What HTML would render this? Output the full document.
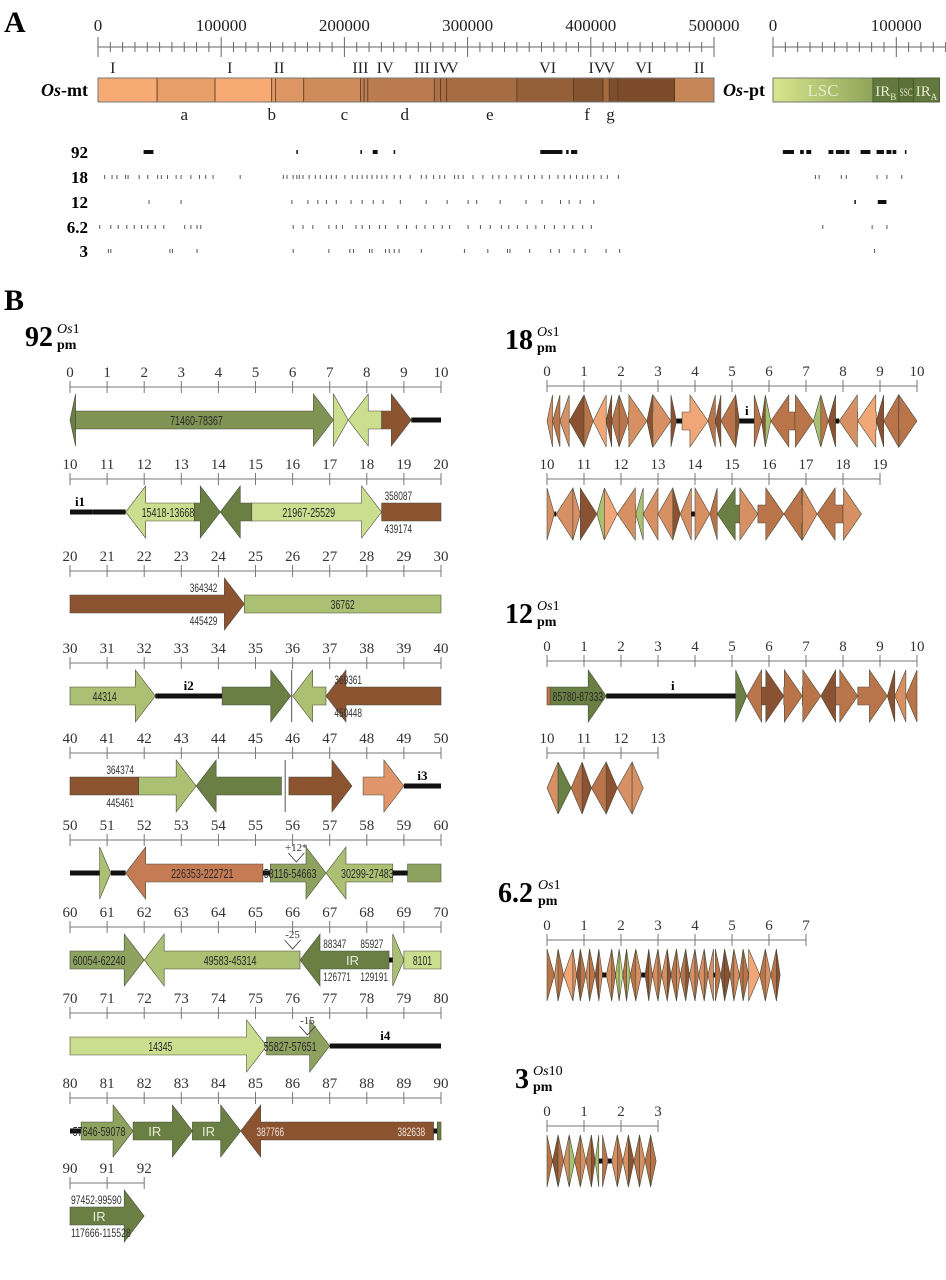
<!DOCTYPE html>
<html><head><meta charset="utf-8">
<style>
html,body{margin:0;padding:0;background:#fff;}
svg{display:block;}
.ser{font-family:"Liberation Serif",serif;}
.san{font-family:"Liberation Sans Narrow","Liberation Sans",sans-serif;}
</style></head>
<body>
<svg id="fig" width="946" height="1280" viewBox="0 0 946 1280" xmlns="http://www.w3.org/2000/svg">
<defs>
<linearGradient id="ptgrad" x1="0" x2="1" y1="0" y2="0">
<stop offset="0" stop-color="#d8e68c"/><stop offset="0.6" stop-color="#8fa45a"/><stop offset="1" stop-color="#607a3c"/>
</linearGradient>
</defs>
<text x="4" y="32" class="ser" font-size="30" font-weight="bold">A</text>
<text x="4" y="310" class="ser" font-size="30" font-weight="bold">B</text>
<g id="topg"></g>
<g id="leftg"></g>
<g id="rightg"></g>
</svg>
<script>
// ---------- Panel A data ----------
const mtTicks = [0,100000,200000,300000,400000,500000];
const ptTicks = [0,100000];
const mtSegStart = [0,48000,95000,141000,144000,167000,213000,216000,219000,273000,278000,283000,340000,386000,410000,415000,422000,468000];
const mtSegShade = [0.0,0.12,0.0,0.15,0.2,0.3,0.4,0.42,0.45,0.55,0.58,0.6,0.72,0.85,0.6,0.88,0.9,0.35];
const mtRoman = [[12000,'I'],[107000,'I'],[147000,'II'],[213000,'III'],[233000,'IV'],[263000,'III'],[279000,'IV'],[288000,'V'],[365000,'VI'],[405000,'IV'],[415000,'V'],[443000,'VI'],[488000,'II']];
const mtLetters = [[70000,'a'],[141000,'b'],[200000,'c'],[249000,'d'],[318000,'e'],[397000,'f'],[416000,'g']];
const ptRegions = [[0,81000,'LSC'],[81000,102000,'IR'],[102000,114000,'SSC'],[114000,135000,'IR']];
const rowNames = ['92','18','12','6.2','3'];
const mtHits92 = [[37,45],[161,162],[213,214],[223,227],[240,241],[359,377],[380,382],[384,389]];
const ptHits92 = [[8,17],[22,25],[27,31],[45,49],[51,58],[59,62],[71,79],[84,90],[92,96],[97,100],[107,108]];
const mtHits18 = [5,11,15,22,24,33,40,48,51,56,63,67,75,82,87,93,115,150,153,158,161,163,166,171,176,180,185,189,193,200,206,210,214,218,222,226,230,234,240,245,253,262,266,272,277,281,289,292,296,304,312,320,325,331,338,343,349,354,360,366,373,378,383,388,393,397,402,408,413,422];
const ptHits18 = [34,37,55,59,84,92,104];
const mtHits12 = [41,67,157,170,178,185,193,205,214,223,231,245,266,283,300,307,326,347,360,375,382,391,402];
const ptHits12 = [[66,67],[85,92]];
const mtHits62 = [1,10,16,23,29,35,40,46,53,70,75,80,83,158,166,174,187,193,198,209,214,220,228,233,243,250,258,265,272,279,285,300,310,318,327,333,340,348,355,362,370,378,385,393,400];
const ptHits62 = [40,80,92];
const mtHits3 = [8,10,58,60,80,158,187,204,207,220,222,233,236,240,244,262,297,316,332,334,350,367,374,386,395,412,423];
const ptHits3 = [82];

// ---------- Panel B data (kb; dir: 1 right, -1 left, 0 box, 2 line, 3 sliver) ----------
const seg92Start = [0,0.15,7.1,7.5,8.4,9.2, 10,10.6,11.5,13.35,14.05,14.9,18.4, 20,24.7, 30,32.3,34.1,35.95,36.0,36.9, 40,41.85,43.4,45.7,45.9,47.9,49.0, 50,50.8,51.1,51.5,55.2,55.4,56.9,58.7,59.1, 60,62.0,66.2,68.6,68.7,69.0, 70,75.3,77.0, 80,80.3,81.7,83.3,84.6,89.8,89.9, 90];
const seg92End   = [0.15,7.1,7.5,8.4,9.2,10, 10.6,11.5,13.35,14.05,14.9,18.4,20, 24.7,30, 32.3,34.1,35.95,36.0,36.9,40, 41.85,43.4,45.7,45.9,47.6,49.0,50, 50.8,51.1,51.5,55.2,55.4,56.9,58.7,59.1,60, 62.0,66.2,68.6,68.7,69.0,70, 75.3,77.0,80, 80.3,81.7,83.3,84.6,89.8,89.9,90, 92];
const seg92Dir   = [-1,1,1,-1,1,2, 2,2,-1,1,-1,1,0, 1,0, 1,2,1,3,-1,-1, 0,1,-1,3,1,1,2, 2,1,2,-1,2,1,-1,2,0, 1,-1,-1,2,1,0, 1,1,2, 2,1,1,1,-1,2,0, 1];
const seg92Col   = ['dg','mo','lg','lg','br','k', 'k','k','lg','dg','dg','lg','br', 'br','lg2', 'lg2','k','dg','k','lg2','br', 'br','lg2','dg','k','br','or','k', 'k','lg2','k','lor','k','mg','lg2','k','mg', 'mg','lg2','dg','k','lg2','lg', 'lg','mg','k', 'k','mg','dg','dg','br','k','dg', 'dg'];
const seg92Label = ['','71460-78367','','','','', 'i1','','15418-13668','','','21967-25529','', '','36762', '44314','i2','','','','', '','','','','','','i3', '','','','226353-222721','','53116-54663','30299-27483','','', '60054-62240','49583-45314','IR','','','8101', '14345','55827-57651','i4', '','57646-59078','IR','IR','','',''  ,'IR'];
const notes92 = [[18.45,'a','358087','start'],[18.45,'b','439174','start'],[24.0,'a','364342','end'],[24.0,'b','445429','end'],[37.1,'a','369361','start'],[37.1,'b','450448','start'],[41.75,'a','364374','end'],[41.75,'b','445461','end'],[66.8,'a','88347','start'],[67.8,'a','85927','start'],[66.8,'b','126771','start'],[67.8,'b','129191','start'],[85.0,'m','387766','start'],[89.6,'m','382638','end'],[90,'a','97452-99590','start'],[90,'b','117666-115528','start']];
const marks92 = [[56.1,'+12*'],[66.0,'-25'],[76.4,'-15']];

const seg18 = [[0,0.15,-1,'o'],[0.15,0.35,-1,'b'],[0.35,0.6,-1,'o'],[0.6,1.0,-1,'db'],[1.0,1.25,1,'b'],[1.25,1.6,-1,'lo'],[1.6,1.75,-1,'db'],[1.75,1.95,-1,'b'],[1.95,2.2,1,'b'],[2.2,2.7,1,'o'],[2.7,2.85,-1,'db'],[2.85,3.35,1,'o'],[3.35,3.5,1,'db'],[3.5,3.65,2,'k'],[3.65,4.35,1,'lo'],[4.35,4.55,-1,'b'],[4.55,4.7,-1,'db'],[4.7,5.1,-1,'b'],[5.1,5.2,1,'db'],[5.2,5.6,2,'k'],[5.6,5.8,1,'b'],[5.8,5.9,-1,'db'],[5.9,6.05,1,'g'],[6.05,6.7,-1,'b'],[6.7,7.2,1,'b'],[7.2,7.4,-1,'g'],[7.4,7.6,1,'b'],[7.6,7.8,-1,'db'],[7.8,7.9,2,'k'],[7.9,8.4,-1,'o'],[8.4,8.9,-1,'lo'],[8.9,9.1,-1,'db'],[9.1,9.5,-1,'b'],[9.5,10.0,1,'b'],
 [10,10.2,1,'o'],[10.2,10.25,2,'k'],[10.25,10.7,-1,'o'],[10.7,10.9,1,'o'],[10.9,11.35,1,'db'],[11.35,11.55,-1,'g'],[11.55,11.9,1,'lo'],[11.9,12.4,-1,'o'],[12.4,12.6,-1,'g'],[12.6,13.0,-1,'o'],[13.0,13.4,-1,'o'],[13.4,13.6,1,'db'],[13.6,13.9,-1,'o'],[13.9,14.0,2,'k'],[14.0,14.4,1,'o'],[14.4,14.6,-1,'b'],[14.6,15.2,-1,'dg'],[15.2,15.7,1,'o'],[15.7,16.4,1,'b'],[16.4,16.9,-1,'b'],[16.9,17.3,1,'o'],[17.3,18.0,-1,'b'],[18.0,18.5,1,'o']];
const lab18 = [[5.4,'i']];
const seg12 = [[0,0.1,0,'b'],[0.1,1.6,1,'dg'],[1.6,5.1,2,'k'],[5.1,5.4,1,'dg'],[5.4,5.8,-1,'b'],[5.8,6.4,1,'db'],[6.4,6.9,1,'b'],[6.9,7.4,1,'b'],[7.4,7.8,-1,'db'],[7.8,8.4,1,'b'],[8.4,9.2,1,'b'],[9.2,9.4,-1,'db'],[9.4,9.7,-1,'o'],[9.7,10,-1,'b'],
 [10,10.3,-1,'o'],[10.3,10.65,1,'dg'],[10.65,10.95,-1,'b'],[10.95,11.2,1,'db'],[11.2,11.6,-1,'b'],[11.6,11.9,1,'db'],[11.9,12.3,-1,'o'],[12.3,12.6,1,'o']];
const lab12 = [[3.4,'i'],[0.15,'85780-87333']];
const seg62 = [[0,0.2,1,'b'],[0.2,0.3,-1,'o'],[0.3,0.45,1,'b'],[0.45,0.7,-1,'lo'],[0.7,0.8,1,'o'],[0.8,0.9,-1,'db'],[0.9,1.05,1,'b'],[1.05,1.15,-1,'o'],[1.15,1.3,1,'b'],[1.3,1.4,-1,'db'],[1.4,1.5,1,'o'],[1.5,1.6,2,'k'],[1.6,1.75,-1,'o'],[1.75,1.85,1,'b'],[1.85,1.95,-1,'g'],[1.95,2.05,1,'lgx'],[2.05,2.15,-1,'b'],[2.15,2.25,1,'g'],[2.25,2.4,-1,'b'],[2.4,2.55,1,'o'],[2.55,2.65,2,'k'],[2.65,2.75,-1,'db'],[2.75,2.85,1,'b'],[2.85,3.0,-1,'o'],[3.0,3.1,1,'b'],[3.1,3.25,-1,'o'],[3.25,3.35,1,'db'],[3.35,3.5,-1,'b'],[3.5,3.6,1,'o'],[3.6,3.75,-1,'b'],[3.75,3.85,1,'db'],[3.85,4.0,-1,'o'],[4.0,4.1,1,'b'],[4.1,4.25,-1,'o'],[4.25,4.35,1,'b'],[4.35,4.5,-1,'o'],[4.5,4.55,2,'k'],[4.55,4.7,1,'b'],[4.7,4.8,-1,'db'],[4.8,4.95,1,'db'],[4.95,5.05,-1,'b'],[5.05,5.2,1,'o'],[5.2,5.3,-1,'b'],[5.3,5.45,1,'b'],[5.45,5.75,1,'lo'],[5.75,5.9,-1,'b'],[5.9,6.05,1,'o'],[6.05,6.2,-1,'b'],[6.2,6.3,1,'db']];
const seg3 = [[0,0.15,1,'b'],[0.15,0.3,-1,'db'],[0.3,0.45,1,'b'],[0.45,0.6,-1,'o'],[0.6,0.75,1,'g'],[0.75,0.9,-1,'b'],[0.9,1.05,1,'o'],[1.05,1.2,-1,'b'],[1.2,1.3,1,'db'],[1.3,1.4,-1,'g'],[1.4,1.5,2,'k'],[1.5,1.65,1,'b'],[1.65,1.75,2,'k'],[1.75,1.9,-1,'o'],[1.9,2.05,1,'b'],[2.05,2.2,-1,'o'],[2.2,2.35,1,'db'],[2.35,2.5,-1,'b'],[2.5,2.65,1,'o'],[2.65,2.8,-1,'b'],[2.8,2.95,1,'b']];

// ---------- drawing ----------
const NS='http://www.w3.org/2000/svg';
const COL={dg:'#6a7f43',mo:'#7f9354',mg:'#8da25f',lg2:'#abc073',lg:'#cbde90',lgx:'#c8dc8c',br:'#8b5330',or:'#e0966a',lor:'#c57b53',o:'#d69063',lo:'#f0a676',b:'#b97549',db:'#8a5232',g:'#a8c070',k:'#111'};
function mk(tag,attrs,parent,name){const e=document.createElementNS(NS,tag);for(const k in attrs)e.setAttribute(k,attrs[k]);
 
 
 parent.appendChild(e);return e;}
function txt(parent,x,y,s,size,opts,name){const t=mk('text',Object.assign({x:x,y:y,'font-size':size},opts||{}),parent,name);t.textContent=s;return t;}
function ntxt(parent,x,y,s,size,per,opts,name){return txt(parent,x,y,s,size,Object.assign({textLength:(s.length*per).toFixed(1),lengthAdjust:'spacingAndGlyphs'},opts),name);}
function rich(parent,x,y,parts,size,opts,name){const t=mk('text',Object.assign({x:x,y:y,'font-size':size},opts||{}),parent,name);
 parts.forEach(p=>{const s=document.createElementNS(NS,'tspan');if(p[1])s.setAttribute('font-style','italic');s.textContent=p[0];t.appendChild(s);});return t;}

// Panel A
const topG=document.getElementById('topg');
const mx=v=>98+v*616/500000, px=v=>773+v*123.3/100000;
function axisA(x0,x1,sc,ticks,name,maxv){
 mk('line',{x1:x0,x2:x1,y1:47,y2:47,stroke:'#666','stroke-width':1},topG,name+'-line');
 for(let v=0;v<=maxv;v+=10000){const x=sc(v);if(x>x1)break;const big=v%100000===0;
  mk('line',{x1:x,x2:x,y1:big?37:42,y2:big?57:52,stroke:'#666','stroke-width':1},topG,name+'-tick');}
 ticks.forEach(v=>txt(topG,sc(v),31,String(v),17,{class:'ser','text-anchor':'middle',fill:'#222'},name+'-tick-label'));
}
axisA(98,714,mx,mtTicks,'mt-axis',500000);
axisA(773,946,px,ptTicks,'pt-axis',140000);
function lerpC(t){const a=[247,170,115],b=[110,66,34];return 'rgb('+a.map((c,i)=>Math.round(c+(b[i]-c)*t)).join(',')+')';}
mtSegStart.forEach((s,i)=>{const e=i+1<mtSegStart.length?mtSegStart[i+1]:500000;
 mk('rect',{x:mx(s),y:78,width:mx(e)-mx(s),height:24,fill:lerpC(mtSegShade[i]),stroke:'#5a3a22','stroke-width':0.8},topG,'mt-region');});
mk('rect',{x:98,y:78,width:616,height:24,fill:'none',stroke:'#777','stroke-width':1},topG,'mt-bar-outline');
mtRoman.forEach(r=>txt(topG,mx(r[0]),73,r[1],16,{class:'ser','text-anchor':'middle',fill:'#222'},'repeat-label'));
mtLetters.forEach(r=>txt(topG,mx(r[0]),120,r[1],17,{class:'ser','text-anchor':'middle',fill:'#222'},'region-letter'));
rich(topG,88,96,[['Os',true],['-mt',false]],18,{class:'ser','text-anchor':'end','font-weight':'bold'},'os-mt-label');
mk('rect',{x:773,y:78,width:px(135000)-773,height:24,fill:'url(#ptgrad)',stroke:'#777','stroke-width':1},topG,'pt-bar');
ptRegions.forEach((r,i)=>{if(i>0)mk('rect',{x:px(r[0]),y:78,width:px(r[1])-px(r[0]),height:24,fill:['#63783f','#5a7038','#63783f'][i-1],stroke:'#445a2a','stroke-width':0.8},topG,'pt-region');
 const opts={class:'ser','text-anchor':'middle',fill:'#e6eccc'};
 if(i==2){opts.textLength='13';opts.lengthAdjust='spacingAndGlyphs';}
 const t=txt(topG,(px(r[0])+px(r[1]))/2,96,r[2],i==0?17:(i==2?12:15),opts,'pt-region-label');
 if(i==1||i==3){const s=document.createElementNS(NS,'tspan');s.setAttribute('font-size','9');s.setAttribute('dy','4');s.textContent=i==1?'B':'A';t.appendChild(s);}});
rich(topG,765,96,[['Os',true],['-pt',false]],18,{class:'ser','text-anchor':'end','font-weight':'bold'},'os-pt-label');
const rowY=[152,177,202,227,251];
rowNames.forEach((n,i)=>txt(topG,88,rowY[i]+6,n,17,{class:'ser','text-anchor':'end','font-weight':'bold'},'row-label-'+n));
function bars(list,sc,y,name){list.forEach(h=>{const a=sc(h[0]*1000),b=sc(h[1]*1000);mk('rect',{x:a,y:y-2,width:Math.max(1.5,b-a),height:4,fill:'#111'},topG,name);});}
function tickMarks(list,sc,y,name){list.forEach(v=>mk('rect',{x:sc(v*1000),y:y-2,width:1,height:4,fill:'#555'},topG,name));}
bars(mtHits92,mx,rowY[0],'mt-hit-92');bars(ptHits92,px,rowY[0],'pt-hit-92');
tickMarks(mtHits18,mx,rowY[1],'mt-hit-18');tickMarks(ptHits18,px,rowY[1],'pt-hit-18');
tickMarks(mtHits12,mx,rowY[2],'mt-hit-12');bars(ptHits12,px,rowY[2],'pt-hit-12');
tickMarks(mtHits62,mx,rowY[3],'mt-hit-6.2');tickMarks(ptHits62,px,rowY[3],'pt-hit-6.2');
tickMarks(mtHits3,mx,rowY[4],'mt-hit-3');tickMarks(ptHits3,px,rowY[4],'pt-hit-3');

// Panel B helpers
function drawAxis(g,x0,sc,y,from,to,name){
 mk('line',{x1:x0,x2:x0+(to-from)*sc,y1:y,y2:y,stroke:'#777','stroke-width':1},g,name+'-line');
 for(let v=from;v<=to;v++){const x=x0+(v-from)*sc;
  mk('line',{x1:x,x2:x,y1:y-6,y2:y+6,stroke:'#777','stroke-width':1},g,name+'-tick');
  txt(g,x,y-10,String(v),15,{class:'ser','text-anchor':'middle',fill:'#333'},name+'-tick-label');}
}
function drawSeg(g,a,b,dir,col,cy,hh,bh,hl,name){
 const L=b-a;
 if(dir===2){mk('rect',{x:a,y:cy-2.5,width:L,height:5,fill:'#111'},g,name+'-spacer');return;}
 if(dir===3){mk('line',{x1:(a+b)/2,x2:(a+b)/2,y1:cy-hh,y2:cy+hh,stroke:'#555','stroke-width':1},g,name+'-junction');return;}
 let pts;
 if(dir===0){pts=[[a,cy-bh],[b,cy-bh],[b,cy+bh],[a,cy+bh]];}
 else{const h=Math.min(hl,L);
  if(dir===1){const m=b-h;pts=[[a,cy-bh],[m,cy-bh],[m,cy-hh],[b,cy],[m,cy+hh],[m,cy+bh],[a,cy+bh]];}
  else{const m=a+h;pts=[[b,cy-bh],[m,cy-bh],[m,cy-hh],[a,cy],[m,cy+hh],[m,cy+bh],[b,cy+bh]];}}
 mk('polygon',{points:pts.map(p=>p.join(',')).join(' '),fill:COL[col],stroke:'#4a4a3a','stroke-width':0.6},g,name+'-gene');
}
function titleBlock(g,x,y,num,sup,name){txt(g,x,y,num,28,{class:'ser','font-weight':'bold'},name);
 const w=num.length*14-(num.indexOf('.')>=0?6:0);
 rich(g,x+w+4,y-13,[['Os',true],[sup,false]],14,{class:'ser'},name+'-sup');
 txt(g,x+w+4,y+3,'pm',14,{class:'ser','font-weight':'bold'},name+'-sub');}

// Left panel (92)
const leftG=document.getElementById('leftg');
const LX=70,LS=37.1;
const rowAxisY=[387,479,571,663,753,840,927,1013,1098,1183];
titleBlock(leftG,25,346,'92','1','title-92');
rowAxisY.forEach((y,r)=>drawAxis(leftG,LX,LS,y,r*10,Math.min(r*10+10,92),'axis-92-row'));
const Lpos=(v)=>{const r=Math.min(9,Math.floor(v/10+1e-6));return [LX+(v-r*10)*LS,rowAxisY[r]+33];};
seg92Start.forEach((s,i)=>{const e=seg92End[i];const r=Math.min(9,Math.floor(s/10+1e-6));
 const a=LX+(s-r*10)*LS,b=LX+(e-r*10)*LS,cy=rowAxisY[r]+33;
 drawSeg(leftG,a,b,seg92Dir[i],seg92Col[i],cy,26,9,20,'seg-92');
 const lab=seg92Label[i];
 if(lab){ if(seg92Dir[i]===2) txt(leftG,lab==='i1'?a+10:(a+b)/2,cy-6,lab,13,{class:'ser','font-weight':'bold','text-anchor':'middle'},'intron-label');
  else {const white=lab==='IR';const cx=seg92Dir[i]===1?(a+b-16)/2:seg92Dir[i]===-1?(a+b+16)/2:(a+b)/2;
   ntxt(leftG,cx,cy+5,lab,13,white?6.5:4.8,{class:'san','text-anchor':'middle',fill:white?'#e8ecd8':'#2a2a2a'},'gene-label');}}
});
notes92.forEach(n=>{const p=Lpos(n[0]);const dy=n[1]==='a'?-12:n[1]==='b'?21:5;
 ntxt(leftG,p[0]+(n[3]==='start'?1:-1),p[1]+dy,n[2],12,4.6,{class:'san','text-anchor':n[3],fill:n[1]==='m'?'#f0e6dc':'#333'},'coordinate-label');});
marks92.forEach(m=>{const p=Lpos(m[0]);
 mk('polyline',{points:(p[0]-8)+','+(p[1]-20)+' '+p[0]+','+(p[1]-11)+' '+(p[0]+8)+','+(p[1]-20),fill:'none',stroke:'#333','stroke-width':0.8},leftG,'indel-mark');
 txt(leftG,p[0],p[1]-22,m[1],11,{class:'ser','text-anchor':'middle',fill:'#333'},'indel-label');});

// Right panels
const rightG=document.getElementById('rightg');
const RX=547,RS=37.0;
function panel(segs,rows,name,labs){
 rows.forEach(r=>drawAxis(rightG,RX,RS,r[0],r[1],r[2],name+'-axis'));
 segs.forEach(s=>{const r=rows.find(q=>s[0]>=q[1]-1e-6&&s[0]<q[1]+10-1e-6)||rows[0];
  const a=RX+(s[0]-r[1])*RS,b=RX+(s[1]-r[1])*RS;drawSeg(rightG,a,b,s[2],s[3],r[0]+35,26,9,18,name);});
 (labs||[]).forEach(l=>{const r=rows[0];const x=RX+(l[0]-r[1])*RS;
  if(l[1]==='i')txt(rightG,x,r[0]+29,'i',13,{class:'ser','font-weight':'bold','text-anchor':'middle'},name+'-intron-label');
  else ntxt(rightG,x,r[0]+40,l[1],13,4.6,{class:'san','text-anchor':'start',fill:'#2a2a2a'},name+'-gene-label');});
}
titleBlock(rightG,505,349,'18','1','title-18');
panel(seg18,[[386,0,10],[479,10,19]],'panel-18',lab18);
titleBlock(rightG,505,623,'12','1','title-12');
panel(seg12,[[661,0,10],[753,10,13]],'panel-12',lab12);
titleBlock(rightG,498,902,'6.2','1','title-6.2');
panel(seg62,[[940,0,7]],'panel-6.2');
titleBlock(rightG,515,1088,'3','10','title-3');
panel(seg3,[[1126,0,3]],'panel-3');
</script>
</body></html>
